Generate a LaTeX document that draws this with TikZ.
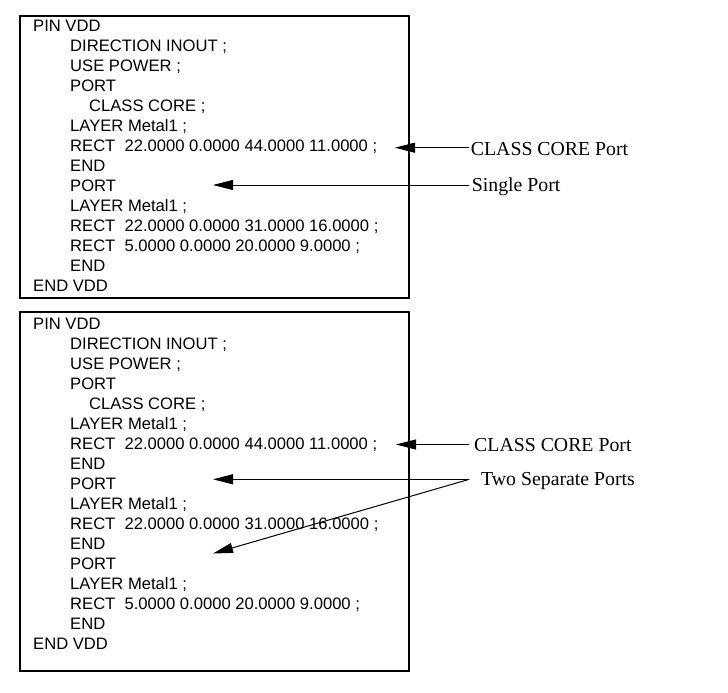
\documentclass[tikz,border=0pt]{standalone}
\usepackage{fontspec}
\setmainfont{Liberation Serif}
\newfontfamily\codefont{Liberation Sans}
\usetikzlibrary{arrows.meta}
\tikzset{
  codeline/.style={anchor=base west, inner sep=0pt, font=\codefont\fontsize{16.6bp}{20bp}\selectfont},
  lbl/.style={anchor=base west, inner sep=0pt, font=\fontsize{19.8bp}{22bp}\selectfont},
  boxline/.style={line width=2bp},
  pointer/.style={line width=1bp, -{Triangle[length=20bp,width=10bp]}},
}
\begin{document}
\begin{tikzpicture}[x=1bp,y=-1bp]
\useasboundingbox (0,0) rectangle (728,693);
% boxes
\draw[boxline] (20,16) rectangle (409,298);
\draw[boxline] (20,312) rectangle (409,671);
% top box text
\foreach \i/\x/\t in {0/33/PIN VDD, 1/70/DIRECTION INOUT ;, 2/70/USE POWER ;, 3/70/PORT, 4/89/CLASS CORE ;, 5/70/LAYER Metal1 ;, 6/70/RECT\ \ 22.0000 0.0000 44.0000 11.0000 ;, 7/70/END, 8/70/PORT, 9/70/LAYER Metal1 ;, 10/70/RECT\ \ 22.0000 0.0000 31.0000 16.0000 ;, 11/70/RECT\ \ 5.0000 0.0000 20.0000 9.0000 ;, 12/70/END, 13/33/END VDD}
  \node[codeline] (ta\i) at (\x, 31.7+20*\i) {\t};
% bottom box text
\foreach \i/\x/\t in {0/33/PIN VDD, 1/70/DIRECTION INOUT ;, 2/70/USE POWER ;, 3/70/PORT, 4/89/CLASS CORE ;, 5/70/LAYER Metal1 ;, 6/70/RECT\ \ 22.0000 0.0000 44.0000 11.0000 ;, 7/70/END, 8/70/PORT, 9/70/LAYER Metal1 ;, 10/70/RECT\ \ 22.0000 0.0000 31.0000 16.0000 ;, 11/70/END, 12/70/PORT, 13/70/LAYER Metal1 ;, 14/70/RECT\ \ 5.0000 0.0000 20.0000 9.0000 ;, 15/70/END, 16/33/END VDD}
  \node[codeline] (tb\i) at (\x, 329.3+20*\i) {\t};
% labels
\node[lbl] (l1) at (470.7,155) {CLASS CORE Port};
\node[lbl] (l2) at (471.7,191.7) {Single Port};
\node[lbl] (l3) at (474,451.7) {CLASS CORE Port};
\node[lbl] (l4) at (481,485) {Two Separate Ports};
% arrow coordinates
\coordinate (s1) at (469.3,147.7);
\coordinate (e1) at (395,147.7);
\coordinate (s2) at (469.3,185);
\coordinate (e2) at (213,185);
\coordinate (s3) at (469.3,444.5);
\coordinate (e3) at (396,444.5);
\coordinate (s4) at (469.3,479.3);
\coordinate (e4) at (213,479.3);
\coordinate (e5) at (213,553.5);
\draw[pointer] (s1) -- (e1);
\draw[pointer] (s2) -- (e2);
\draw[pointer] (s3) -- (e3);
\draw[pointer] (s4) -- (e4);
\draw[pointer] (s4) -- (e5);
\end{tikzpicture}
\end{document}
